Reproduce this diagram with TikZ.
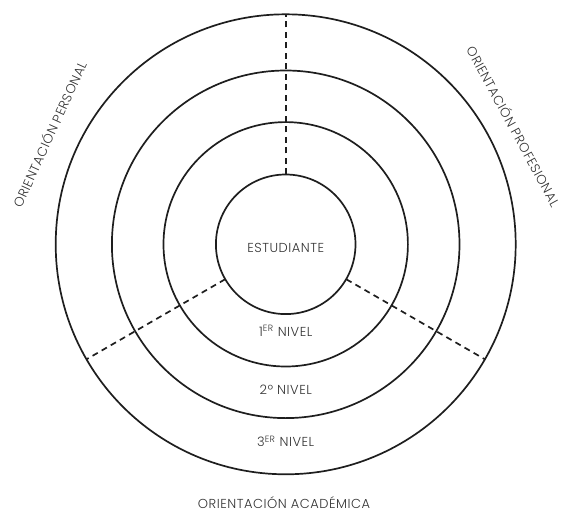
\documentclass[tikz,border=0pt]{standalone}
\usepackage{fontspec}
\setmainfont{Poppins}[UprightFont=* Light, LetterSpace=4]
\definecolor{ink}{HTML}{1E1E1E}
\definecolor{txt}{HTML}{333333}
\begin{document}
\begin{tikzpicture}[x=1pt,y=-1pt,
  ring/.style={draw=ink,line width=1.7pt},
  divider/.style={draw=ink,line width=1.7pt,dash pattern=on 6pt off 4.5pt},
  lbl/.style={text=txt,font=\fontsize{13}{15}\selectfont,inner sep=0pt}]
\useasboundingbox (0,0) rectangle (566,512);
\coordinate (c) at (285.7,244.3);
\node[circle,minimum size=460pt,inner sep=0pt] (r3) at (c) {};
\node[circle,minimum size=347.6pt,inner sep=0pt] (r2) at (c) {};
\node[circle,minimum size=244.4pt,inner sep=0pt] (r1) at (c) {};
\node[circle,minimum size=139.6pt,inner sep=0pt] (r0) at (c) {};
\draw[ring] (c) circle[radius=230];
\draw[ring] (c) circle[radius=173.8];
\draw[ring] (c) circle[radius=122.2];
\draw[ring] (c) circle[radius=69.8];
\draw[divider] (r0.90) -- (r3.90);
\draw[divider] (r0.210) -- (r3.210);
\draw[divider] (r0.330) -- (r3.330);
\node[lbl,anchor=base] (est) at (285.7,252) {ESTUDIANTE};
\node[lbl,anchor=base] (n1) at (285.7,336) {1\textsuperscript{ER} NIVEL};
\node[lbl,anchor=base] (n2) at (285.7,394.3) {2º NIVEL};
\node[lbl,anchor=base] (n3) at (285.7,446.7) {3\textsuperscript{ER} NIVEL};
\node[lbl,anchor=base] (acad) at (284,508.5) {ORIENTACIÓN ACADÉMICA};
\node[lbl,rotate=65.5] (pers) at (49,134) {ORIENTACIÓN PERSONAL};
\node[lbl,rotate=-61.5] (prof) at (514,126) {ORIENTACIÓN PROFESIONAL};
\end{tikzpicture}
\end{document}
